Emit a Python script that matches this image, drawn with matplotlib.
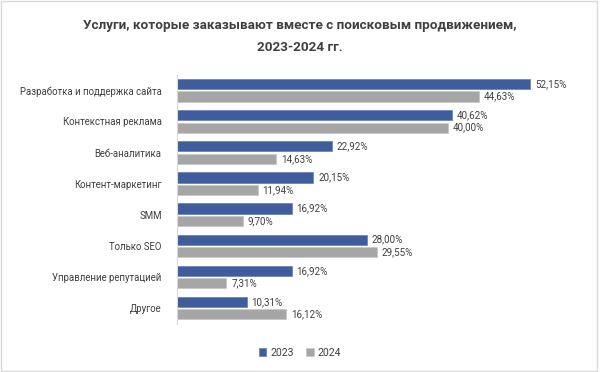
import numpy as np
import matplotlib.pyplot as plt
from matplotlib.patches import Rectangle

plt.rcParams['font.family'] = ['Roboto', 'DejaVu Sans']

# Данные
categories = ['Разработка и поддержка сайта', 'Контекстная реклама', 'Веб-аналитика',
              'Контент-маркетинг', 'SMM', 'Только SEO', 'Управление репутацией', 'Другое']
values_2023 = [52.15, 40.62, 22.92, 20.15, 16.92, 28.00, 16.92, 10.31]
values_2024 = [44.63, 40.00, 14.63, 11.94, 9.70, 29.55, 7.31, 16.12]
labels_2023 = ['52,15%', '40,62%', '22,92%', '20,15%', '16,92%', '28,00%', '16,92%', '10,31%']
labels_2024 = ['44,63%', '40,00%', '14,63%', '11,94%', '9,70%', '29,55%', '7,31%', '16,12%']

c2023 = '#3F5C9C'
c2024 = '#A6A6A6'

fig = plt.figure(figsize=(6.0, 3.72), dpi=100)
ax = fig.add_axes([0.295, 0.130, 0.677, 0.669])

y = np.arange(len(categories))
h = 0.33
off = 0.2
ax.barh(y - off, values_2023, height=h, color=c2023, edgecolor='#6F86B8', linewidth=0.6, label='2023')
ax.barh(y + off, values_2024, height=h, color=c2024, edgecolor='#C8C8C8', linewidth=0.6, label='2024')

for i in range(len(categories)):
    ax.text(values_2023[i] + 0.7, y[i] - off, labels_2023[i], va='center', ha='left',
            fontsize=7.1, color='#404040')
    ax.text(values_2024[i] + 0.7, y[i] + off, labels_2024[i], va='center', ha='left',
            fontsize=7.1, color='#404040')

ax.set_xlim(0, 60)
ax.set_ylim(len(categories) - 0.5, -0.5)
ax.set_yticks(y)
ax.set_yticklabels(categories, fontsize=6.9, color='#404040')
ax.tick_params(axis='y', length=0, pad=11)
ax.set_xticks([])
for s in ['top', 'right', 'bottom']:
    ax.spines[s].set_visible(False)
ax.spines['left'].set_color('#D9D9D9')
ax.spines['left'].set_linewidth(0.8)

fig.text(0.5, 0.902, 'Услуги, которые заказывают вместе с поисковым продвижением,\n2023-2024 гг.',
         ha='center', va='center', fontsize=9.7, fontweight='bold', color='#404040', linespacing=1.95)

fig.legend(loc='center', bbox_to_anchor=(0.5, 0.052), ncol=2, frameon=False, fontsize=7.6,
           handlelength=0.7, handleheight=0.7, handletextpad=0.4, columnspacing=1.2,
           labelcolor='#404040')

# рамка вокруг рисунка
fig.patches.append(Rectangle((0.002, 0.003), 0.993, 0.994, transform=fig.transFigure,
                             fill=False, edgecolor='#D9D9D9', linewidth=1))

fig.savefig('out.png', dpi=100)
